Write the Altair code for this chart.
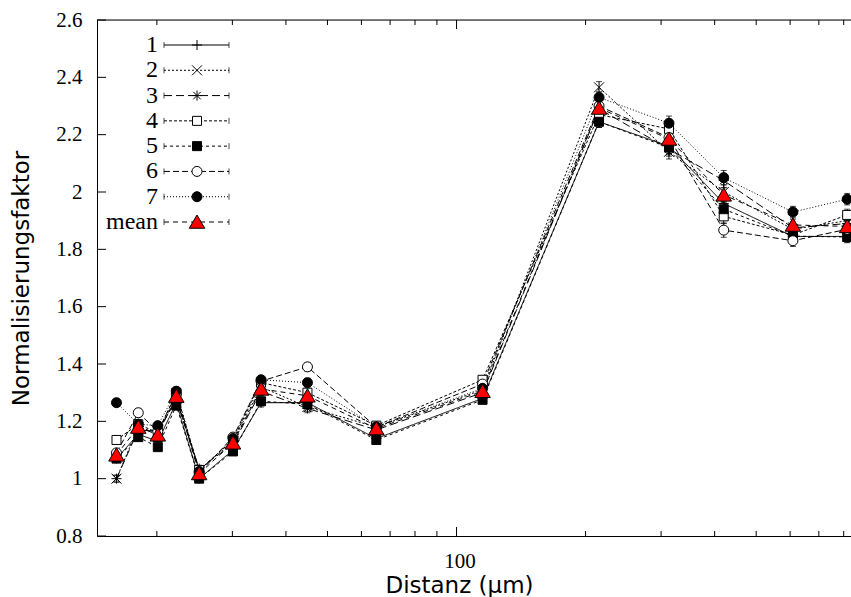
import altair as alt
import pandas as pd

# ---------------- data ----------------
distances = [16.1, 18.1, 20.1, 22.2, 25.1, 30.1, 35.0, 44.9, 65.0, 115, 215, 313, 420, 609, 815]
series_names = ["1", "2", "3", "4", "5", "6", "7", "mean"]

s1 = [1.07, 1.155, 1.13, 1.265, 1.000, 1.100, 1.265, 1.265, 1.140, 1.280, 2.245, 2.160, 1.960, 1.845, 1.845]
s2 = [1.00, 1.180, 1.16, 1.280, 1.030, 1.130, 1.320, 1.250, 1.180, 1.310, 2.365, 2.140, 2.000, 1.870, 1.900]
s3 = [1.00, 1.170, 1.165, 1.275, 1.035, 1.120, 1.305, 1.245, 1.170, 1.300, 2.290, 2.150, 2.040, 1.875, 1.890]
s4 = [1.135, 1.190, 1.16, 1.300, 1.030, 1.135, 1.335, 1.300, 1.185, 1.345, 2.270, 2.220, 1.915, 1.850, 1.920]
s5 = [1.07, 1.145, 1.11, 1.255, 1.000, 1.095, 1.270, 1.260, 1.135, 1.275, 2.245, 2.155, 1.940, 1.846, 1.843]
s6 = [1.09, 1.230, 1.165, 1.295, 1.020, 1.145, 1.340, 1.390, 1.180, 1.330, 2.300, 2.190, 1.867, 1.830, 1.870]
s7 = [1.265, 1.190, 1.185, 1.305, 1.025, 1.140, 1.345, 1.335, 1.180, 1.315, 2.330, 2.240, 2.050, 1.930, 1.975]
mean = [1.083, 1.180, 1.153, 1.288, 1.018, 1.125, 1.313, 1.289, 1.175, 1.305, 2.293, 2.185, 1.990, 1.885, 1.880]
all_series = [s1, s2, s3, s4, s5, s6, s7, mean]

# error bar half-widths per distance (read approximately)
err = [0.012, 0.015, 0.012, 0.015, 0.012, 0.012, 0.015, 0.015, 0.012, 0.012, 0.02, 0.025, 0.025, 0.02, 0.02]

# axis ticks
x_major = [100]
x_minor = [20, 30, 40, 50, 60, 70, 80, 90, 200, 300, 400, 500, 600, 700, 800]
y_ticks = [0.8, 1.0, 1.2, 1.4, 1.6, 1.8, 2.0, 2.2, 2.4, 2.6]

# ---------------- styles ----------------
dashes = [[1, 0], [2, 2], [8, 4], [3, 2], [3, 3], [6, 3], [1, 2], [5, 4]]
shapes = [
    "M-1,0H1M0,-1V1",
    "M-1,-1L1,1M1,-1L-1,1",
    "M-1,0H1M0,-1V1M-0.75,-0.75L0.75,0.75M0.75,-0.75L-0.75,0.75",
    "M-0.9,-0.9H0.9V0.9H-0.9Z",
    "M-0.9,-0.9H0.9V0.9H-0.9Z",
    "circle",
    "circle",
    "M0,-1.4L1.55,1.25L-1.55,1.25Z",
]
fills = ["transparent", "transparent", "transparent", "white", "black", "white", "black", "red"]

rows = []
for name, vals in zip(series_names, all_series):
    for i, (d, v) in enumerate(zip(distances, vals)):
        rows.append({"series": name, "x": d, "y": v, "lo": v - err[i], "hi": v + err[i]})
df = pd.DataFrame(rows)

W, H = 754, 516
SERIF = "Liberation Serif"
SANS = "DejaVu Sans"

xscale = alt.Scale(type="log", domain=[14.5, 832], nice=False)
yscale = alt.Scale(domain=[0.8, 2.6], nice=False, zero=False)
dash_enc = alt.StrokeDash("series:N", scale=alt.Scale(domain=series_names, range=dashes), legend=None)
shape_enc = alt.Shape("series:N", scale=alt.Scale(domain=series_names, range=shapes), legend=None)
fill_enc = alt.Fill("series:N", scale=alt.Scale(domain=series_names, range=fills), legend=None)

xaxis = alt.Axis(values=x_major, format="d", ticks=False, tickSize=0, grid=False,
                 labelFont=SERIF, labelFontSize=21, labelColor="black",
                 labelBaseline="alphabetic", labelPadding=31, labelOffset=3,
                 domainColor="black", domainWidth=1,
                 title="Distanz (µm)", titleFont=SANS, titleFontSize=23, titleFontWeight="normal",
                 titleColor="black", titleX=362, titleY=56, titleBaseline="alphabetic", titleAlign="center")
yaxis = alt.Axis(values=y_ticks, format=".1~f", ticks=False, tickSize=0, grid=False,
                 labelFont=SERIF, labelFontSize=21, labelColor="black", labelPadding=15,
                 domainColor="black", domainWidth=1,
                 title="Normalisierungsfaktor", titleFont=SANS, titleFontSize=23, titleFontWeight="normal",
                 titleColor="black", titlePadding=22)

base = alt.Chart(df)

lines = base.mark_line(strokeWidth=1, color="black").encode(
    x=alt.X("x:Q", scale=xscale, axis=xaxis),
    y=alt.Y("y:Q", scale=yscale, axis=yaxis),
    strokeDash=dash_enc,
    detail="series:N",
)
ebar = base.mark_rule(strokeWidth=1, color="black").encode(
    x=alt.X("x:Q", scale=xscale),
    y=alt.Y("lo:Q", scale=yscale),
    y2="hi:Q",
)
cap_lo = base.mark_point(shape="M-1,0H1", size=36, stroke="black", strokeWidth=1, filled=False).encode(
    x=alt.X("x:Q", scale=xscale), y=alt.Y("lo:Q", scale=yscale))
cap_hi = base.mark_point(shape="M-1,0H1", size=36, stroke="black", strokeWidth=1, filled=False).encode(
    x=alt.X("x:Q", scale=xscale), y=alt.Y("hi:Q", scale=yscale))
points = base.mark_point(filled=True, stroke="black", strokeWidth=1, opacity=1, size=100).encode(
    x=alt.X("x:Q", scale=xscale),
    y=alt.Y("y:Q", scale=yscale),
    shape=shape_enc, fill=fill_enc,
)

# inward axis ticks
xmin_df = pd.DataFrame({"t": x_minor})
xmaj_df = pd.DataFrame({"t": x_major})
y_df = pd.DataFrame({"t": y_ticks})
tick_bot_min = alt.Chart(xmin_df).mark_rule(color="black", strokeWidth=1).encode(
    x=alt.X("t:Q", scale=xscale), y=alt.value(H), y2=alt.value(H - 5))
tick_top_min = alt.Chart(xmin_df).mark_rule(color="black", strokeWidth=1).encode(
    x=alt.X("t:Q", scale=xscale), y=alt.value(0), y2=alt.value(5))
tick_bot_maj = alt.Chart(xmaj_df).mark_rule(color="black", strokeWidth=1).encode(
    x=alt.X("t:Q", scale=xscale), y=alt.value(H), y2=alt.value(H - 9))
tick_top_maj = alt.Chart(xmaj_df).mark_rule(color="black", strokeWidth=1).encode(
    x=alt.X("t:Q", scale=xscale), y=alt.value(0), y2=alt.value(9))
tick_left = alt.Chart(y_df).mark_rule(color="black", strokeWidth=1).encode(
    y=alt.Y("t:Q", scale=yscale), x=alt.value(0), x2=alt.value(9))
top_border = alt.Chart(pd.DataFrame({"a": [0]})).mark_rule(color="black", strokeWidth=1).encode(
    x=alt.value(0), x2=alt.value(W), y=alt.value(0))

main = alt.layer(tick_bot_min, tick_top_min, tick_bot_maj, tick_top_maj, tick_left, top_border,
                 lines, ebar, cap_lo, cap_hi, points)

# custom legend (line + caps + marker, like the original key)
leg_df = pd.DataFrame({"series": series_names})
leg_y = alt.Y("series:N", scale=alt.Scale(type="point", domain=series_names, range=[25, 202], padding=0),
              axis=None)
leg_base = alt.Chart(leg_df)
leg_line = leg_base.mark_rule(strokeWidth=1, color="black").encode(
    x=alt.value(67), x2=alt.value(132), y=leg_y, strokeDash=dash_enc)
leg_cap_l = leg_base.mark_point(shape="M0,-1V1", size=36, stroke="black", strokeWidth=1, filled=False).encode(
    x=alt.value(67), y=leg_y)
leg_cap_r = leg_base.mark_point(shape="M0,-1V1", size=36, stroke="black", strokeWidth=1, filled=False).encode(
    x=alt.value(132), y=leg_y)
leg_pts = leg_base.mark_point(filled=True, stroke="black", strokeWidth=1, opacity=1, size=100).encode(
    x=alt.value(100), y=leg_y, shape=shape_enc, fill=fill_enc)
leg_txt = leg_base.mark_text(align="right", baseline="middle", font=SERIF, fontSize=24, color="black").encode(
    x=alt.value(61), y=leg_y, text="series:N")
legend = alt.layer(leg_line, leg_cap_l, leg_cap_r, leg_pts, leg_txt)

chart = alt.layer(main, legend).resolve_scale(y="independent").properties(
    width=W, height=H,
    autosize=alt.AutoSizeParams(type="none"),
    padding={"left": 97, "top": 20, "right": 0, "bottom": 61},
).configure_view(stroke=None).configure(background="white")

chart.save("out.html", embed_options={"renderer": "svg", "actions": False})
